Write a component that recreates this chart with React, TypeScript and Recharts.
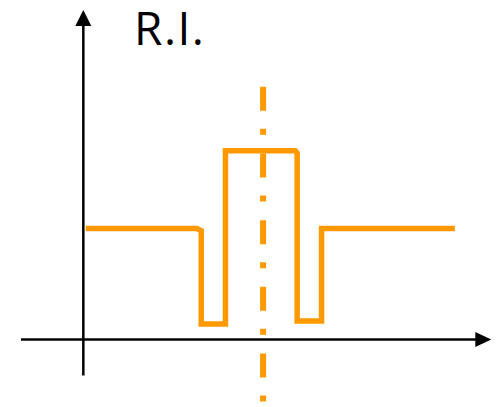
import { LineChart, Line, XAxis, YAxis, ReferenceLine, ReferenceDot } from 'recharts';

// radial position (arbitrary units, 0 = fibre centre)
const positions = [-37, -13.8, -12.9, -12.9, -7.85, -7.85, 6.7, 7.1, 7.1, 12.2, 12.2, 40];
// refractive index, relative to the cladding level (= 1)
const indexValues = [1, 1, 0.98, 0.14, 0.14, 1.7, 1.7, 1.68, 0.165, 0.165, 1, 1];

const axisLabel = 'R.I.';

const data = positions.map((r, i) => ({ r, n: indexValues[i] }));

const ORANGE = '#ff9900';

const ArrowRight = (props: any) => {
  const { cx, cy } = props;
  return <polygon points={`${cx},${cy} ${cx - 16},${cy - 7.5} ${cx - 16},${cy + 7.5}`} fill="#000" />;
};

const ArrowUp = (props: any) => {
  const { cx, cy } = props;
  return <polygon points={`${cx},${cy} ${cx - 8},${cy + 16} ${cx + 8},${cy + 16}`} fill="#000" />;
};

const App = () => {
  return (
    <div style={{ position: 'absolute', left: 0, top: 0, width: 498, height: 407 }}>
      <LineChart width={498} height={407} data={data} margin={{ top: 1, right: 0, left: 21, bottom: 1 }}>
        <XAxis type="number" dataKey="r" domain={[-50.5, 49]} hide allowDataOverflow />
        <YAxis type="number" domain={[-0.6, 3.05]} hide allowDataOverflow />
        {/* axes */}
        <ReferenceLine segment={[{ x: -50.5, y: 0 }, { x: 45, y: 0 }]} stroke="#000" strokeWidth={2.5} />
        <ReferenceLine segment={[{ x: -37.5, y: -0.325 }, { x: -37.5, y: 2.83 }]} stroke="#000" strokeWidth={2.5} />
        <ReferenceDot x={47.6} y={0} shape={ArrowRight} />
        <ReferenceDot x={-37.5} y={2.968} shape={ArrowUp} />
        {/* centre line */}
        <ReferenceLine
          segment={[{ x: 0, y: 2.277 }, { x: 0, y: -0.564 }]}
          stroke={ORANGE}
          strokeWidth={6}
          strokeDasharray="24 18 6 18.7"
        />
        <Line
          type="linear"
          dataKey="n"
          stroke={ORANGE}
          strokeWidth={5.5}
          dot={false}
          activeDot={false}
          isAnimationActive={false}
        />
      </LineChart>
      <svg width={498} height={60} style={{ position: 'absolute', left: 0, top: 0, pointerEvents: 'none' }}>
        <text
          x={134}
          y={45}
          fontFamily='"Open Sans", sans-serif'
          fontSize={46}
          fontWeight={500}
          letterSpacing={1.5}
          fill="#000"
        >
          {axisLabel}
        </text>
      </svg>
    </div>
  );
};

export default App;
